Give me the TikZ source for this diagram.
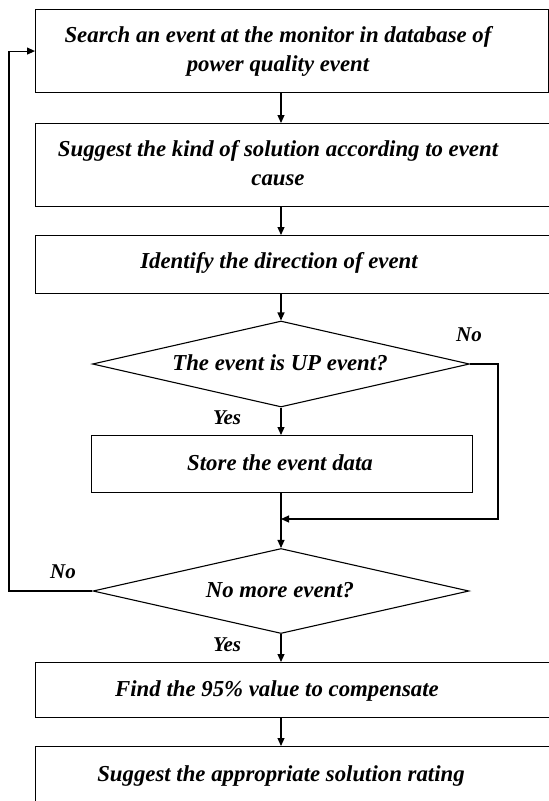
\documentclass[tikz,border=0pt]{standalone}
\usepackage{fontspec}
\setmainfont{Liberation Serif}
\usetikzlibrary{shapes.geometric,arrows.meta}
\tikzset{
  boxshape/.style={draw, line width=1.1pt, inner sep=0pt, anchor=north west},
  dshape/.style={draw, diamond, line width=1.1pt, inner sep=0pt, aspect=4.4},
  txt/.style={align=center, font=\fontsize{22.8}{29}\selectfont\bfseries\itshape, inner sep=0pt},
  lbl/.style={font=\fontsize{21}{24}\selectfont\bfseries\itshape, inner sep=0pt},
  arr/.style={line width=1.1pt, -{Triangle[length=8pt,width=7pt]}},
  ln/.style={line width=1.1pt}
}
\begin{document}
\begin{tikzpicture}[x=1pt,y=-1pt]
\useasboundingbox (0,0) rectangle (549,801);
\fill[white] (0,0) rectangle (549,801);
\coordinate (sx) at (281,0);
\coordinate (lx) at (9,0);
\coordinate (rx) at (498,0);
% boxes
\node[boxshape, minimum width=513pt, minimum height=83pt] (b1) at (35,9) {};
\node[boxshape, minimum width=525pt, minimum height=83pt] (b2) at (35,123) {};
\node[boxshape, minimum width=525pt, minimum height=58pt] (b3) at (35,235) {};
\node[dshape, minimum width=377pt, minimum height=86pt] (d1) at (281,364) {};
\node[boxshape, minimum width=381pt, minimum height=57pt] (b4) at (91,435) {};
\node[dshape, minimum width=376pt, minimum height=85pt] (d2) at (281,591) {};
\node[boxshape, minimum width=525pt, minimum height=55pt] (b5) at (35,662) {};
\node[boxshape, minimum width=525pt, minimum height=70pt] (b6) at (35,746) {};
% texts
\node[txt] (t1) at (278,51) {Search an event at the monitor in database of\\power quality event};
\node[txt] (t2) at (278,163) {Suggest the kind of solution according to event\\cause};
\node[txt] (t3) at (279,263) {Identify the direction of event};
\node[txt] (t4) at (280,363) {The event is UP event?};
\node[txt] (t5) at (280,463) {Store the event data};
\node[txt] (t6) at (280,590) {No more event?};
\node[txt] (t7) at (277,691) {Find the 95\% value to compensate};
\node[txt] (t8) at (281,776) {Suggest the appropriate solution rating};
% labels
\node[lbl] (no1) at (469,335) {No};
\node[lbl] (yes1) at (227,418) {Yes};
\node[lbl] (no2) at (63,572) {No};
\node[lbl] (yes2) at (227,645) {Yes};
% connectors
\coordinate (m) at (281,519);
\draw[arr] (b1.south -| sx) -- (b2.north -| sx);
\draw[arr] (b2.south -| sx) -- (b3.north -| sx);
\draw[arr] (b3.south -| sx) -- (d1.north);
\draw[arr] (d1.south) -- (b4.north -| d1.south);
\draw[arr] (b4.south -| sx) -- (d2.north);
\draw[arr] (d1.east) -- (d1.east -| rx) |- (m);
\draw[arr] (d2.west) -- (d2.west -| lx) |- (b1.west);
\draw[arr] (d2.south) -- (b5.north -| d2.south);
\draw[arr] (b5.south -| sx) -- (b6.north -| sx);
\end{tikzpicture}
\end{document}
